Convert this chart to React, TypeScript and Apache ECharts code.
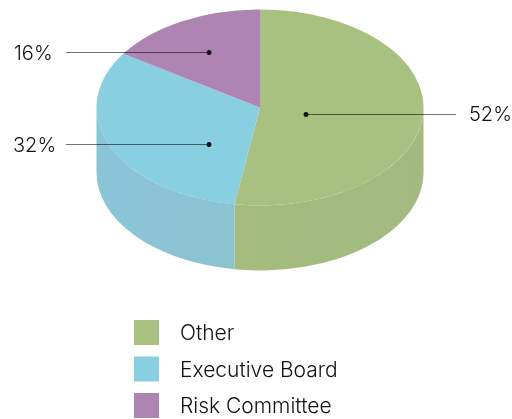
import React, { useEffect, useRef } from "react";
import * as echarts from "echarts";

const categories = ["Other", "Executive Board", "Risk Committee"];
const shares = [52, 32, 16];
const shareLabels = ["52%", "32%", "16%"];
const topColors = ["#A9C180", "#89CFE2", "#AE84B2"];
const wallColors = [
  ["#A5BC7E", "#A2BA80"],
  ["#8BC4D7", "#8CC3D1"],
  ["#AE84B2", "#AE84B2"],
];

// Layout of the tilted disc, in pixels
const CX = 260;
const CY = 107.5;
const RX = 163.5;
const RY = 98;
const DEPTH = 65;
const SKEW = 1.8; // perspective shift of the slice boundaries, degrees
const FONT = "Inter";
const leaders = [
  { dot: [306, 114.5], end: 456, tx: 469, ty: 114 },
  { dot: [209, 144.5], end: 66, tx: 13, ty: 145 },
  { dot: [209, 52.5], end: 66, tx: 14, ty: 53 },
];

const total = shares.reduce((a, b) => a + b, 0);
const toAngle = (share: number) => {
  const t = (share / total) * 360;
  return t + SKEW * Math.sin((t / 2) * (Math.PI / 180));
};
const rim = (deg: number, dy = 0) => {
  const r = (deg * Math.PI) / 180;
  return [CX + RX * Math.sin(r), CY - RY * Math.cos(r) + dy];
};

export default function App() {
  const ref = useRef<HTMLDivElement>(null);
  useEffect(() => {
    const chart = echarts.init(ref.current!, null, { renderer: "svg" });
    let acc = 0;
    const spans = shares.map((s) => {
      const a = toAngle(acc);
      acc += s;
      return [a, toAngle(acc)];
    });
    const sliceSeries = categories.map((name, i) => ({
      type: "custom",
      name,
      coordinateSystem: "none",
      silent: true,
      itemStyle: { color: topColors[i] },
      data: [shares[i]],
      z: 2,
      renderItem: () => {
        const [a0, a1] = spans[i];
        const children: any[] = [];
        const w0 = Math.max(a0, 90);
        const w1 = Math.min(a1, 270);
        if (w1 > w0) {
          const p = rim(w0);
          const q = rim(w1);
          const pb = rim(w0, DEPTH);
          const qb = rim(w1, DEPTH);
          children.push({
            type: "path",
            shape: {
              pathData: `M${p[0]} ${p[1]}A${RX} ${RY} 0 0 1 ${q[0]} ${q[1]}L${qb[0]} ${qb[1]}A${RX} ${RY} 0 0 0 ${pb[0]} ${pb[1]}Z`,
            },
            style: {
              fill: new echarts.graphic.LinearGradient(0, 0, 1, 0, [
                { offset: 0, color: wallColors[i][0] },
                { offset: 1, color: wallColors[i][1] },
              ]),
            },
          });
        }
        const s = rim(a0);
        const e = rim(a1);
        const large = a1 - a0 > 180 ? 1 : 0;
        children.push({
          type: "path",
          shape: {
            pathData: `M${CX} ${CY}L${s[0]} ${s[1]}A${RX} ${RY} 0 ${large} 1 ${e[0]} ${e[1]}Z`,
          },
          style: { fill: topColors[i] },
        });
        return { type: "group", children };
      },
    }));
    const labelSeries = {
      type: "custom",
      coordinateSystem: "none",
      silent: true,
      z: 5,
      data: shares.map((s) => s),
      renderItem: (params: any) => {
        const i = params.dataIndex;
        const l = leaders[i];
        return {
          type: "group",
          children: [
            {
              type: "line",
              shape: { x1: l.dot[0], y1: l.dot[1], x2: l.end, y2: l.dot[1] },
              style: { stroke: "rgba(0,0,0,0.55)", lineWidth: 1 },
            },
            {
              type: "circle",
              shape: { cx: l.dot[0], cy: l.dot[1], r: 2.5 },
              style: { fill: "#111" },
            },
            {
              type: "text",
              x: l.tx,
              y: l.ty,
              style: {
                text: shareLabels[i],
                fill: "#111",
                font: `300 20px ${FONT}`,
                textAlign: "left",
                textVerticalAlign: "middle",
              },
            },
          ],
        };
      },
    };
    chart.setOption({
      animation: false,
      legend: {
        orient: "vertical",
        left: 134,
        top: 320,
        padding: 0,
        itemWidth: 25,
        itemHeight: 25,
        itemGap: 11.5,
        icon: "rect",
        selectedMode: false,
        data: categories,
        textStyle: {
          color: "#111",
          fontSize: 21,
          fontWeight: 300,
          fontFamily: FONT,
          padding: [0, 0, 1, 16],
        },
      },
      series: [...sliceSeries, labelSeries],
    });
    return () => chart.dispose();
  }, []);
  return (
    <div
      ref={ref}
      style={{ position: "fixed", left: 0, top: 0, width: 512, height: 419 }}
    />
  );
}
